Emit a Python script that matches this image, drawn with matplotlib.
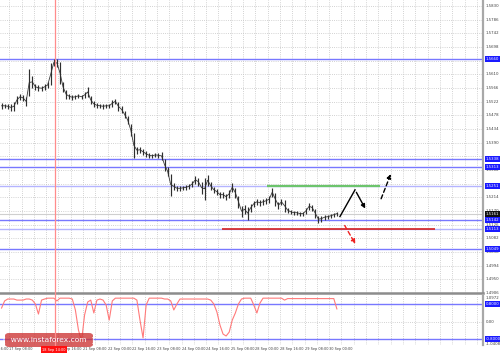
import numpy as np
import matplotlib
matplotlib.use("Agg")
import matplotlib.pyplot as plt
from matplotlib.lines import Line2D
from matplotlib.patches import FancyBboxPatch

# ---- data (H2 bars, hours from chart start) ----
bar_hours = np.arange(1, 221, 2)
bar_high = [1.5518, 1.5515, 1.5515, 1.5515, 1.5521, 1.5540, 1.5547, 1.5544, 1.5537, 1.5627,
            1.5605, 1.5579, 1.5576, 1.5573, 1.5579, 1.5585, 1.5646, 1.5659, 1.5659, 1.5650,
            1.5585, 1.5560, 1.5547, 1.5544, 1.5544, 1.5547, 1.5544, 1.5553, 1.5569, 1.5540,
            1.5524, 1.5518, 1.5515, 1.5515, 1.5515, 1.5515, 1.5528, 1.5531, 1.5521, 1.5508,
            1.5492, 1.5476, 1.5450, 1.5422, 1.5377, 1.5377, 1.5370, 1.5364, 1.5357, 1.5354,
            1.5357, 1.5357, 1.5360, 1.5338, 1.5312, 1.5290, 1.5261, 1.5251, 1.5251, 1.5251,
            1.5254, 1.5258, 1.5267, 1.5283, 1.5277, 1.5264, 1.5277, 1.5287, 1.5264, 1.5248,
            1.5242, 1.5232, 1.5232, 1.5226, 1.5238, 1.5261, 1.5245, 1.5219, 1.5187, 1.5190,
            1.5184, 1.5193, 1.5203, 1.5209, 1.5206, 1.5209, 1.5213, 1.5219, 1.5245, 1.5229,
            1.5200, 1.5209, 1.5206, 1.5181, 1.5174, 1.5171, 1.5171, 1.5168, 1.5168, 1.5181,
            1.5197, 1.5190, 1.5177, 1.5155, 1.5155, 1.5158, 1.5158, 1.5161, 1.5164, 1.5168]
bar_low = [1.5499, 1.5502, 1.5499, 1.5492, 1.5492, 1.5515, 1.5528, 1.5524, 1.5508, 1.5540,
           1.5566, 1.5560, 1.5557, 1.5557, 1.5560, 1.5566, 1.5576, 1.5637, 1.5634, 1.5579,
           1.5553, 1.5531, 1.5531, 1.5528, 1.5531, 1.5534, 1.5531, 1.5534, 1.5537, 1.5515,
           1.5505, 1.5502, 1.5502, 1.5499, 1.5502, 1.5502, 1.5505, 1.5515, 1.5492, 1.5486,
           1.5470, 1.5450, 1.5412, 1.5341, 1.5354, 1.5357, 1.5351, 1.5344, 1.5341, 1.5341,
           1.5344, 1.5341, 1.5335, 1.5299, 1.5283, 1.5219, 1.5238, 1.5235, 1.5235, 1.5238,
           1.5238, 1.5242, 1.5248, 1.5258, 1.5251, 1.5226, 1.5206, 1.5251, 1.5238, 1.5229,
           1.5222, 1.5213, 1.5213, 1.5206, 1.5213, 1.5232, 1.5213, 1.5181, 1.5152, 1.5161,
           1.5142, 1.5168, 1.5184, 1.5190, 1.5187, 1.5190, 1.5193, 1.5197, 1.5216, 1.5187,
           1.5177, 1.5190, 1.5168, 1.5164, 1.5161, 1.5158, 1.5158, 1.5155, 1.5155, 1.5161,
           1.5174, 1.5171, 1.5148, 1.5132, 1.5136, 1.5142, 1.5145, 1.5148, 1.5152, 1.5155]
ind_values = [0.63, 0.96, 1.05, 1.05, 1.05, 1.00, 1.00, 1.00, 1.05, 1.05,
              1.00, 0.82, 0.35, 1.00, 1.05, 1.09, 1.09, 1.09, 0.96, 1.09,
              1.09, 1.09, 1.09, 1.05, 0.54, -0.39, -0.90, 0.31, 0.91, 1.00,
              0.40, 1.00, 1.05, 1.00, 0.77, 0.07, 0.96, 1.09, 1.09, 1.09,
              1.09, 1.09, 1.09, 1.09, 1.00, 0.07, -0.76, 0.77, 1.09, 1.09,
              1.09, 1.09, 1.09, 1.05, 1.05, 0.96, 0.54, 0.82, 1.05, 1.05,
              1.05, 1.05, 1.05, 1.05, 1.05, 1.05, 1.05, 1.05, 1.00, 0.82,
              0.45, -0.16, -0.58, -0.67, -0.49, 0.07, 0.40, 0.82, 1.05, 1.09,
              1.09, 1.09, 0.77, 0.40, 0.86, 1.09, 1.09, 1.09, 1.09, 1.09,
              1.09, 1.09, 1.00, 1.07, 1.07, 1.07, 1.07, 1.07, 1.07, 1.07,
              1.07, 1.07, 1.07, 1.07, 1.07, 1.07, 1.07, 1.07, 1.07, 0.59]

blue_levels = [1.5660, 1.5338, 1.5313, 1.5142, 1.5049]
light_levels = [1.5251, 1.5113]
current_price = 1.5161
green_level, green_span = 1.5251, (173.6, 247.1)
red_level, red_span = 1.5113, (144.3, 282.8)
ind_levels = [0.8, -0.8]

# "18 Sep 00:00" sits under the crosshair label in the source, so it is not listed
date_hours = [-10, 6, 38, 54, 70, 86, 102, 118, 134, 150, 166, 182, 198, 214]
date_labels = ["16 Sep 16:00", "17 Sep 08:00", "18 Sep 16:00", "21 Sep 08:00",
               "22 Sep 00:00", "22 Sep 16:00", "23 Sep 08:00", "24 Sep 00:00", "24 Sep 16:00",
               "25 Sep 08:00", "28 Sep 00:00", "28 Sep 16:00", "29 Sep 08:00", "30 Sep 00:00"]
price_ticks = [round(1.5830 - 0.0044 * n, 4) for n in range(22)]

# forecast arrows (hour, price)
zigzag = [(221.0, 1.5152), (230.8, 1.5238), (238.3, 1.5170)]
up_arrow = [(247.1, 1.5201), (254.7, 1.5297)]
down_arrow = [(223.2, 1.5131), (231.9, 1.5056)]

W, H = 500, 353
fig = plt.figure(figsize=(W / 100, H / 100), dpi=100)
ax = fig.add_axes([0, (H - 293) / H, 483 / W, 293 / H])
axi = fig.add_axes([0, (H - 345) / H, 483 / W, 50 / H])

XMAX = 314
YLO, YHI = 1.49073, 1.5849
grid_kw = dict(color='#c4c4c4', lw=0.6, linestyle=(0, (1, 1.6)))
for a in (ax, axi):
    a.set_xlim(0, XMAX)
    a.set_xticks(np.arange(6, XMAX, 8))
    a.tick_params(length=0, labelbottom=False, labelleft=False)
    a.grid(True, **grid_kw)
    a.set_axisbelow(True)
    for s in ('top', 'left'):
        a.spines[s].set_visible(False)
    a.spines['right'].set_color('#a8a8a8')
    a.spines['right'].set_linewidth(1.6)
ax.spines['bottom'].set_color('#8c8c8c')
ax.spines['bottom'].set_linewidth(1.8)
axi.spines['bottom'].set_visible(False)

ax.set_ylim(YLO, YHI)
ax.set_yticks(price_ticks)

# levels
for lv in blue_levels:
    ax.axhline(lv, color='#7878ff', lw=1.0, zorder=2)
for lv in light_levels:
    ax.axhline(lv, color='#b4b4ff', lw=1.0, zorder=2)
ax.axhline(current_price, color='#cfcfcf', lw=0.8, zorder=2)
ax.hlines(green_level, *green_span, color='#6cc46c', lw=1.6, zorder=3)
ax.hlines(red_level, *red_span, color='#d42020', lw=1.2, zorder=3)

# bars
mid = (np.array(bar_high) + np.array(bar_low)) / 2
ax.plot(bar_hours, mid, color='#3a3a3a', lw=0.6, zorder=4)
ax.vlines(bar_hours, bar_low, bar_high, color='#2e2e2e', lw=0.85, zorder=4)

# forecast arrows
zx, zy = zip(*zigzag)
ax.plot(zx[:-1], zy[:-1], color='black', lw=1.0, zorder=5)
ax.annotate('', xy=zigzag[2], xytext=zigzag[1],
            arrowprops=dict(arrowstyle='-|>', color='black', lw=1.0, mutation_scale=6))
ax.annotate('', xy=up_arrow[1], xytext=up_arrow[0],
            arrowprops=dict(arrowstyle='-|>', color='black', lw=1.0, ls=(0, (3, 2)),
                            mutation_scale=6))
ax.annotate('', xy=down_arrow[1], xytext=down_arrow[0],
            arrowprops=dict(arrowstyle='-|>', color='#ee2222', lw=1.0, ls=(0, (3, 2)),
                            mutation_scale=6))

# right price scale
FS = 2.8
ytr = ax.get_yaxis_transform()
px_per = 293 / (YHI - YLO)
boxed = blue_levels + light_levels + [current_price]
for t in price_ticks:
    if min(abs(t - b) for b in boxed) * px_per < 2.5:
        continue
    ax.text(1.006, t, f"{t:.4f}", transform=ytr, fontsize=FS, color='#404040',
            va='center', ha='left', clip_on=False)
for lv in boxed:
    fc = '#111111' if lv == current_price else '#1a1aff'
    ax.text(1.006, lv, f"{lv:.4f}", transform=ytr, fontsize=FS, color='white', va='center',
            ha='left', clip_on=False,
            bbox=dict(facecolor=fc, edgecolor='none', boxstyle='square,pad=0.25'))

# indicator
axi.set_ylim(-1.089, 1.237)
axi.set_yticks([0.0])
axi.plot(bar_hours, ind_values, color='#ff7a7a', lw=0.8, zorder=4)
for lv in ind_levels:
    axi.axhline(lv, color='#7878ff', lw=1.0, zorder=2)
itr = axi.get_yaxis_transform()
for v, s in [(1.0972, "1.0972"), (0.0, "0.00"), (-1.0408, "-1.0408")]:
    axi.text(1.006, v, s, transform=itr, fontsize=FS, color='#404040', va='center',
             ha='left', clip_on=False)
for lv in ind_levels:
    axi.text(1.006, lv, f"{lv:.4f}", transform=itr, fontsize=FS, color='white',
             va='center', ha='left', clip_on=False,
             bbox=dict(facecolor='#1a1aff', edgecolor='none', boxstyle='square,pad=0.25'))

# date labels
xtr = axi.get_xaxis_transform()
for h, s in zip(date_hours, date_labels):
    axi.text(h, -0.075, s, transform=xtr, fontsize=2.5, color='#404040', va='center',
             ha='left', clip_on=False)

# crosshair
fig.add_artist(Line2D([55 / W, 55 / W], [1, (H - 347) / H], color='#ff8c8c', lw=0.9))
fig.text(54 / W, (H - 349.5) / H, "18 Sep 14:00", fontsize=2.5, color='white', ha='center',
         va='center', zorder=10,
         bbox=dict(facecolor='#ff1010', edgecolor='none', boxstyle='square,pad=0.3'))

# watermark
fig.add_artist(FancyBboxPatch((5 / W, (H - 347) / H), 88 / W, 14 / H,
                              boxstyle='round,pad=0,rounding_size=0.008',
                              transform=fig.transFigure, facecolor='#cc3333', alpha=0.78,
                              edgecolor='none'))
fig.text(49 / W, (H - 340) / H, "[  www.instaforex.com  ]", fontsize=5.4, color='white',
         ha='center', va='center')

fig.savefig("out.png", dpi=100)
